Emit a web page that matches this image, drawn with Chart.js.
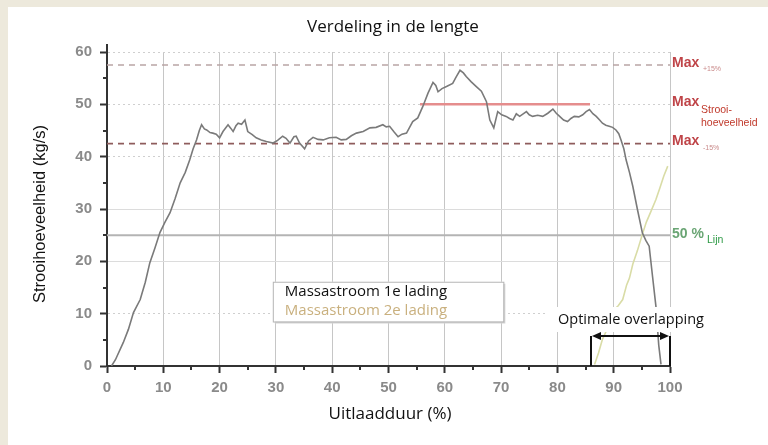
<!DOCTYPE html>
<html>
<head>
<meta charset="utf-8">
<script src="https://cdn.jsdelivr.net/npm/chart.js@4.4.1/dist/chart.umd.min.js"></script>
<style>
  html, body { margin: 0; padding: 0; background: #ede9dc; }
  #frame { position: absolute; left: 8px; top: 7px; width: 760px; height: 438px; background: #fff; }
  #chart { position: absolute; left: 0; top: 0; }
</style>
</head>
<body>
<div id="frame"></div>
<canvas id="chart" width="768" height="445"></canvas>
<script>
// Massastroom 1e lading (x = uitlaadduur %, y = kg/s)
const load1X = [0.8, 1.5, 2.9, 3.8, 4.7, 5.9, 6.8, 7.6, 8.5, 9.4, 10.3, 11.2, 12.1, 13, 13.9, 14.7, 15.3, 15.9, 16.4, 16.8,
  17.3, 17.7, 18.3, 18.8, 19.4, 20, 20.6, 21.5, 22, 22.4, 22.9, 23.3, 23.9, 24.5, 25, 25.8, 26.5, 27.4, 28.3, 29.5,
  30.3, 31.2, 31.8, 32.5, 33.2, 33.6, 34.2, 35.1, 35.8, 36.6, 37.5, 38.4, 39.5, 40.7, 41.6, 42.5, 43.4, 44.3, 45.5, 46.7,
  47.8, 49, 49.6, 50.2, 51, 51.7, 52.4, 53.2, 54.3, 55.2, 56.1, 57, 57.9, 58.4, 58.8, 59.5, 60.3, 61.4, 62, 62.7,
  63.3, 63.8, 64.7, 65.6, 66.5, 67.4, 68, 68.7, 69.4, 70.1, 70.9, 71.5, 72.1, 72.7, 73.3, 74.5, 75, 75.6, 76.5, 77.4,
  78.3, 79.2, 79.8, 80.4, 81.1, 81.8, 82.4, 83, 83.8, 84.5, 85.1, 85.7, 86.3, 86.9, 87.5, 88, 88.6, 89.2, 89.8, 90.4,
  90.9, 91.3, 91.8, 92.2, 92.8, 93.4, 94.2, 95.1, 95.7, 96.3, 96.9, 97.5, 98, 98.4];
const load1Y = [0, 1.2, 4.5, 7, 10.2, 12.7, 16, 19.7, 22.5, 25.5, 27.5, 29.3, 32, 35, 37, 39.4, 41.5, 43.2, 45, 46.1,
  45.3, 45.1, 44.6, 44.5, 44.3, 43.6, 44.8, 46.1, 45.4, 44.8, 45.9, 46.4, 46.2, 47, 44.8, 44.2, 43.6, 43.2, 42.9, 42.6,
  43.1, 43.9, 43.5, 42.6, 43.8, 43.9, 42.6, 41.5, 43, 43.7, 43.3, 43.2, 43.6, 43.7, 43.2, 43.3, 44, 44.5, 44.8, 45.5,
  45.6, 46.1, 45.7, 45.8, 44.7, 43.8, 44.3, 44.5, 46.7, 47.4, 49.6, 52.1, 54.2, 53.6, 52.4, 53, 53.4, 54, 55.2, 56.5,
  56, 55.3, 54.3, 53.4, 52.5, 50.5, 47, 45.5, 48.6, 48, 47.7, 47.3, 47, 48.2, 47.7, 48.6, 48, 47.7, 47.9, 47.7,
  48.3, 49.1, 48.3, 47.7, 47, 46.7, 47.3, 47.7, 47.6, 48, 48.6, 49, 48.2, 47.7, 47, 46.4, 46, 45.8, 45.6, 45.1,
  44.4, 43.2, 41.5, 39.4, 37, 34.3, 30, 25.4, 24, 22.9, 17.1, 11.4, 4, 0.3];

// Massastroom 2e lading
const load2X = [86.6, 87.3, 88, 88.6, 89.3, 90.1, 90.8, 91.6, 92.3, 92.8, 93.4, 94.2, 95.1, 95.8, 96.6, 97.5, 98.2, 98.9, 99.6];
const load2Y = [0.3, 2.5, 5.1, 6.5, 9, 10.8, 11.5, 12.7, 15.5, 16.8, 19.5, 22, 25.2, 27.5, 29.5, 31.8, 34, 36.3, 38.2];

// reference levels
const maxPlus15 = 57.5;
const maxLevel = 50;
const maxLevelRange = [55.6, 85.8];
const maxMin15 = 42.5;
const halfLine = 25;
const overlapRange = [86, 100];

const xTicks = [0, 10, 20, 30, 40, 50, 60, 70, 80, 90, 100];
const yTicks = [0, 10, 20, 30, 40, 50, 60];
const solidYGrid = [20, 30];

const pts = (xs, ys) => xs.map((x, i) => ({ x: x, y: ys[i] }));
const hline = (v, from, to) => [{ x: from, y: v }, { x: to, y: v }];

const decor = {
  id: 'decor',
  afterDraw(chart) {
    const { ctx, chartArea: a, scales: { x, y } } = chart;
    ctx.save();

    // minor ticks + axis stub above 60
    ctx.strokeStyle = '#333';
    ctx.lineWidth = 2;
    ctx.beginPath();
    for (let v = 5; v < 100; v += 10) {
      const px = Math.round(x.getPixelForValue(v));
      ctx.moveTo(px, a.bottom); ctx.lineTo(px, a.bottom + 4);
    }
    for (let v = 5; v < 60; v += 10) {
      const py = Math.round(y.getPixelForValue(v));
      ctx.moveTo(a.left, py); ctx.lineTo(a.left - 4, py);
    }
    ctx.moveTo(a.left, a.top); ctx.lineTo(a.left, a.top - 8);
    ctx.stroke();

    // title + axis titles
    ctx.fillStyle = '#111';
    ctx.textAlign = 'center';
    ctx.textBaseline = 'middle';
    ctx.font = '17px "Open Sans"';
    ctx.fillText('Verdeling in de lengte', 393, 27);
    ctx.fillText('Uitlaadduur (%)', 390, 414);
    ctx.save();
    ctx.translate(40, 214);
    ctx.rotate(-Math.PI / 2);
    ctx.font = '16.5px "Liberation Sans"';
    ctx.fillText('Strooihoeveelheid (kg/s)', 0, 0);
    ctx.restore();

    // legend box
    const lx1 = x.getPixelForValue(29.45), lx2 = x.getPixelForValue(70.4);
    const ly1 = y.getPixelForValue(16.1), ly2 = y.getPixelForValue(8.5);
    ctx.fillStyle = '#d4d4d4';
    ctx.fillRect(lx1 + 2, ly1 + 2, lx2 - lx1, ly2 - ly1);
    ctx.fillStyle = '#fff';
    ctx.fillRect(lx1, ly1, lx2 - lx1, ly2 - ly1);
    ctx.strokeStyle = '#b5b5b5';
    ctx.lineWidth = 1;
    ctx.strokeRect(lx1 + 0.5, ly1 + 0.5, lx2 - lx1, ly2 - ly1);
    ctx.textAlign = 'left';
    ctx.font = '15px "Open Sans"';
    ctx.fillStyle = '#111';
    ctx.fillText('Massastroom 1e lading', lx1 + 12, ly1 + 10);
    ctx.fillStyle = '#c9b07e';
    ctx.fillText('Massastroom 2e lading', lx1 + 12, ly1 + 29);

    // overlap bracket
    const ox1 = Math.round(x.getPixelForValue(overlapRange[0]));
    const ox2 = Math.round(x.getPixelForValue(overlapRange[1]));
    const oy = Math.round(y.getPixelForValue(5.8));
    ctx.fillStyle = '#fff';
    ctx.fillRect(547, 307, 165, 25);
    ctx.fillStyle = '#111';
    ctx.textAlign = 'center';
    ctx.font = '14.5px "Open Sans"';
    ctx.fillText('Optimale overlapping', 631, 320);
    ctx.strokeStyle = '#111';
    ctx.lineWidth = 2;
    ctx.beginPath();
    ctx.moveTo(ox1, a.bottom); ctx.lineTo(ox1, oy);
    ctx.moveTo(ox2, a.bottom); ctx.lineTo(ox2, oy);
    ctx.moveTo(ox1 + 8, oy); ctx.lineTo(ox2 - 8, oy);
    ctx.stroke();
    ctx.beginPath();
    ctx.moveTo(ox1 + 1, oy); ctx.lineTo(ox1 + 10, oy - 4); ctx.lineTo(ox1 + 10, oy + 4); ctx.closePath();
    ctx.moveTo(ox2 - 1, oy); ctx.lineTo(ox2 - 10, oy - 4); ctx.lineTo(ox2 - 10, oy + 4); ctx.closePath();
    ctx.fill();

    // right side labels
    const rx = a.right + 2;
    const maxLabel = (v, sub) => {
      const py = y.getPixelForValue(v) - 2;
      ctx.textAlign = 'left';
      ctx.font = 'bold 14px "Liberation Sans"';
      ctx.fillStyle = '#bf4448';
      ctx.fillText('Max', rx, py);
      ctx.font = '7px "Liberation Sans"';
      ctx.fillStyle = '#c98a8a';
      ctx.fillText(sub, rx + 31, py + 6);
    };
    maxLabel(maxPlus15, '+15%');
    maxLabel(maxMin15, '-15%');
    const my = y.getPixelForValue(maxLevel) - 2;
    ctx.font = 'bold 14px "Liberation Sans"';
    ctx.fillStyle = '#bf4448';
    ctx.fillText('Max', rx, my);
    ctx.font = '10.5px "Liberation Sans"';
    ctx.fillStyle = '#c0392b';
    ctx.fillText('Strooi-', rx + 29, my + 8);
    ctx.fillText('hoeveelheid', rx + 29, my + 21);
    const hy = y.getPixelForValue(halfLine) - 1;
    ctx.font = 'bold 14px "Liberation Sans"';
    ctx.fillStyle = '#6aa574';
    ctx.fillText('50 %', rx, hy);
    ctx.font = '10.5px "Liberation Sans"';
    ctx.fillStyle = '#2e9a46';
    ctx.fillText('Lijn', rx + 35, hy + 6);

    ctx.restore();
  }
};

new Chart(document.getElementById('chart'), {
  type: 'line',
  data: {
    datasets: [
      { data: pts(load1X, load1Y), borderColor: '#7a7a7a', borderWidth: 1.6 },
      { data: pts(load2X, load2Y), borderColor: '#d9dca6', borderWidth: 1.6 },
      { data: hline(maxLevel, maxLevelRange[0], maxLevelRange[1]), borderColor: '#e58d8d', borderWidth: 2.5 },
      { data: hline(maxPlus15, 0, 100), borderColor: '#b9a5a5', borderWidth: 1.5, borderDash: [6, 5] },
      { data: hline(maxMin15, 0, 100), borderColor: '#8e5c5c', borderWidth: 1.8, borderDash: [6, 5] },
      { data: hline(halfLine, 0, 100), borderColor: '#b4b4b4', borderWidth: 2 }
    ]
  },
  options: {
    responsive: false,
    animation: false,
    events: [],
    elements: { point: { radius: 0 }, line: { tension: 0 } },
    layout: { padding: { left: 0, top: 52, right: 98, bottom: 0 } },
    plugins: { legend: { display: false }, tooltip: { enabled: false } },
    scales: {
      x: {
        type: 'linear',
        min: 0, max: 100,
        afterFit: s => { s.height = 79; },
        afterBuildTicks: s => { s.ticks = xTicks.map(v => ({ value: v })); },
        ticks: { color: '#8a8a8a', padding: 6, font: { family: 'Liberation Sans', size: 15, weight: 'bold' } },
        grid: { color: '#c6c6c6', lineWidth: 1, tickLength: 7, tickColor: '#333', tickWidth: 2 },
        border: { color: '#333', width: 2, dash: [] }
      },
      y: {
        min: 0, max: 60,
        afterFit: s => { s.width = 107; },
        afterBuildTicks: s => { s.ticks = yTicks.map(v => ({ value: v })); },
        ticks: { color: '#8a8a8a', padding: 8, font: { family: 'Liberation Sans', size: 15, weight: 'bold' } },
        grid: {
          color: c => solidYGrid.includes(c.tick && c.tick.value) ? '#dcdcdc' : '#cfcfcf',
          lineWidth: 1, tickLength: 7, tickColor: '#333', tickWidth: 2
        },
        border: {
          color: '#333', width: 2,
          dash: c => solidYGrid.includes(c.tick && c.tick.value) ? [] : [2, 3]
        }
      }
    }
  },
  plugins: [decor]
});
</script>
</body>
</html>
